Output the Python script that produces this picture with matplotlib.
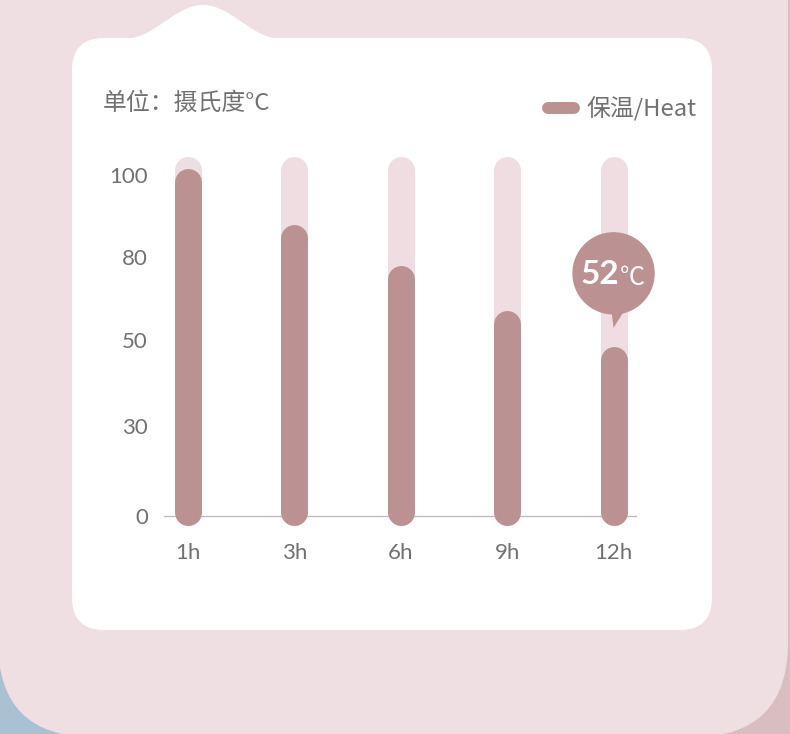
import numpy as np
import matplotlib.pyplot as plt
from matplotlib.patches import FancyBboxPatch, Rectangle, Polygon

# ---------------- data ----------------
hours = ['1h', '3h', '6h', '9h', '12h']
heat = [101.8, 85.6, 73.6, 60.4, 49.6]      # bar heights, °C
track_top = 105.4                             # light background track
ytick_pos = [0, 26.5, 51.6, 76.0, 100]
ytick_labels = ['0', '30', '50', '80', '100']
bubble_text = '52'
unit_text = '单位：摄氏度°C'
legend_text = '保温/Heat'

# ---------------- colours ----------------
bg_pink = '#efdee2'
blue = '#a9c2d3'
dusty = '#d9bec1'
bar_col = '#bc9192'
track_col = '#efdde1'
text_col = '#717171'
axis_col = '#bdbdbd'

W, H = 790, 734
fig = plt.figure(figsize=(W / 100, H / 100), dpi=100)

# background in pixel coordinates
bg = fig.add_axes([0, 0, 1, 1])
bg.set_xlim(0, W)
bg.set_ylim(H, 0)
bg.axis('off')
bg.add_patch(Rectangle((0, 0), W / 2, H, color=blue, zorder=0))
bg.add_patch(Rectangle((W / 2, 0), W / 2, H, color=dusty, zorder=0))
bg.add_patch(FancyBboxPatch((-2, -150), 790, 887, boxstyle='round,pad=0,rounding_size=95',
                            fc=bg_pink, ec='none', zorder=1))
bg.add_patch(FancyBboxPatch((72, 38), 640, 592, boxstyle='round,pad=0,rounding_size=32',
                            fc='white', ec='none', zorder=2))
# bump on top of the card
bx = np.linspace(126, 280, 120)
by = 38.5 - 33.5 * 0.5 * (1 + np.cos(np.pi * (bx - 203) / 77))
bg.fill(np.r_[bx, bx[-1], bx[0]], np.r_[by, 45, 45], color='white', lw=0, zorder=2)

# header texts
cjk = ['Noto Sans CJK SC', 'DejaVu Sans']
bg.text(103, 103, unit_text, fontsize=17.2, color=text_col, va='center', ha='left',
        family=cjk, zorder=5)
bg.plot([548, 574], [108, 108], color=bar_col, lw=8.6, solid_capstyle='round', zorder=5)
bg.text(586, 108, legend_text, fontsize=17.2, color=text_col, va='center', ha='left',
        family=cjk, zorder=5)

# ---------------- chart ----------------
ax = fig.add_axes([164 / W, (H - 516) / H, 472 / W, 105 * 3.41 / H])
ax.patch.set_alpha(0)
ax.set_xlim(-0.2256, 4.211)
ax.set_ylim(0, 105)
for s in ['top', 'right', 'left']:
    ax.spines[s].set_visible(False)
ax.spines['bottom'].set_color(axis_col)
ax.spines['bottom'].set_linewidth(1)
ax.spines['bottom'].set_zorder(1)

x = np.arange(len(hours))
ppu = ax.transData.transform((0, 1))[1] - ax.transData.transform((0, 0))[1]
bar_px = 27
r = bar_px / 2 / ppu
low = -9 / ppu + r
lw = bar_px * 72 / 100

for xi, v in zip(x, heat):
    ax.plot([xi, xi], [low, track_top - r], color=track_col, lw=lw,
            solid_capstyle='round', clip_on=False, zorder=2)
    ax.plot([xi, xi], [low, v - r], color=bar_col, lw=lw,
            solid_capstyle='round', clip_on=False, zorder=3)

ax.set_yticks(ytick_pos)
ax.set_yticklabels(ytick_labels)
ax.set_xticks(x)
ax.set_xticklabels(hours)
ax.tick_params(axis='y', length=0, pad=11.5, labelsize=16, labelcolor=text_col)
ax.tick_params(axis='x', length=0, pad=19.5, labelsize=16, labelcolor=text_col)
for lab in ax.get_xticklabels() + ax.get_yticklabels():
    lab.set_family(['Lato', 'DejaVu Sans'])

# bubble over the last bar, drawn on an overlay in pixel space
top_ax = fig.add_axes([0, 0, 1, 1])
top_ax.set_xlim(0, W)
top_ax.set_ylim(H, 0)
top_ax.axis('off')
top_ax.patch.set_alpha(0)
px, py = ax.transData.transform((x[-1], heat[-1]))
cx, top = px, H - py
cy = top - 73.5
top_ax.add_patch(plt.Circle((cx, cy), 40.5, color=bar_col, zorder=6))
top_ax.add_patch(Polygon([[cx - 3, cy + 30], [cx, top - 19], [cx + 16, cy + 29]],
                         closed=True, color=bar_col, lw=0, zorder=6))
top_ax.text(cx + 5.5, cy + 10.5, bubble_text, fontsize=24, fontweight='bold', color='white',
            ha='right', va='baseline', family=['Lato', 'DejaVu Sans'], zorder=7)
top_ax.text(cx + 6.5, cy + 11.5, '℃', fontsize=18, color='white',
            ha='left', va='baseline', family=cjk, zorder=7)

fig.savefig('out.png', dpi=100)
